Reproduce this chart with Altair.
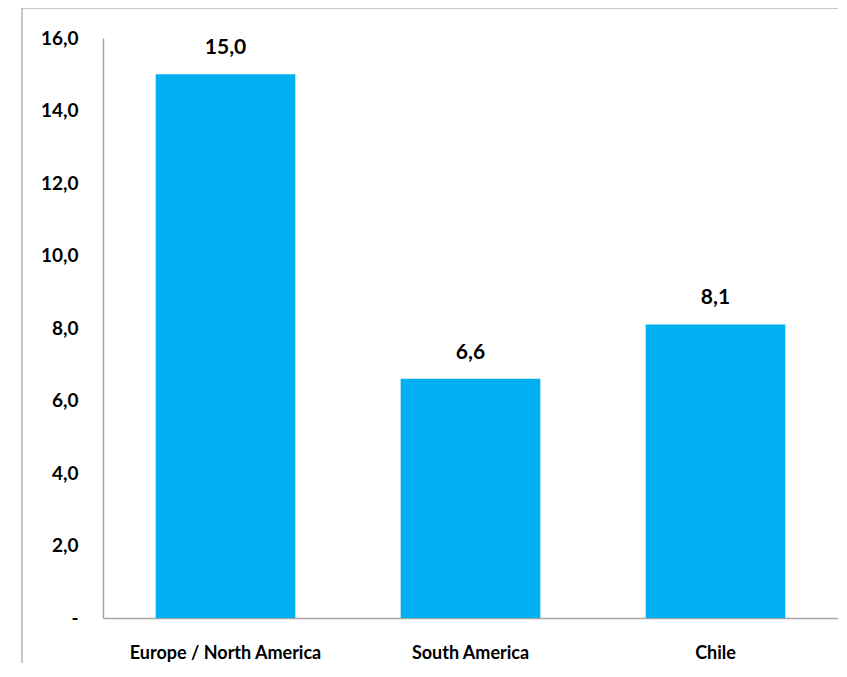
import altair as alt
import pandas as pd

regions = ["Europe / North America", "South America", "Chile"]
values = [15.0, 6.6, 8.1]

df = pd.DataFrame({"region": regions, "value": values})

base = alt.Chart(df).transform_calculate(
    label="replace(format(datum.value, '.1f'), '.', ',')"
)

bars = base.mark_bar(color="#00B0F0").encode(
    x=alt.X("region:N", sort=regions,
            scale=alt.Scale(paddingInner=0.43, paddingOuter=0.215),
            axis=alt.Axis(title=None, labelAngle=0, ticks=False, domainColor="#A6A6A6",
                          domainWidth=1.5, labelPadding=26, labelFontSize=18, labelLimit=0,
                          labelFont="Lato", labelFontWeight="bold", labelColor="#000000")),
    y=alt.Y("value:Q", scale=alt.Scale(domain=[0, 16], nice=False),
            axis=alt.Axis(title=None, values=[0, 2, 4, 6, 8, 10, 12, 14, 16], ticks=False,
                          grid=False, domainColor="#A6A6A6", domainWidth=1.5,
                          labelPadding=25, labelFontSize=19, labelFont="Lato",
                          labelFontWeight="bold", labelColor="#000000",
                          labelExpr="datum.value == 0 ? '-' : replace(format(datum.value, '.1f'), '.', ',')")),
)

text = base.mark_text(dy=-26, baseline="middle", font="Lato", fontWeight="bold",
                      fontSize=21, color="#000000").encode(
    x=alt.X("region:N", sort=regions),
    y="value:Q",
    text="label:N",
)

frame_df = pd.DataFrame({"a": [0]})
top_line = alt.Chart(frame_df).mark_rule(color="#B4B4B4", strokeWidth=1.5).encode(
    x=alt.value(-81), x2=alt.value(760), y=alt.value(-30)
)
left_line = alt.Chart(frame_df).mark_rule(color="#B4B4B4", strokeWidth=1.5).encode(
    x=alt.value(-81), y=alt.value(-30), y2=alt.value(640)
)

chart = alt.layer(bars, text, top_line, left_line).properties(
    width=735, height=580,
    autosize=alt.AutoSizeParams(type="none"),
    padding={"left": 95, "top": 30, "right": 0, "bottom": 45},
).configure_view(stroke=None)

chart.save("out.html", embed_options={"renderer": "svg", "actions": False})
